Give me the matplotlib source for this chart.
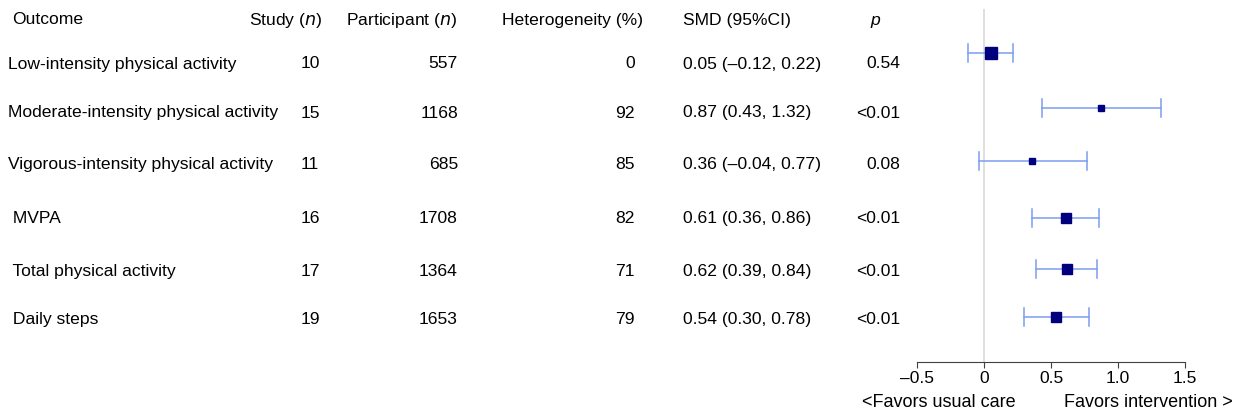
import matplotlib.pyplot as plt
import matplotlib.transforms as mtransforms

plt.rcParams['font.family'] = ['Liberation Sans', 'DejaVu Sans']

# data
outcomes = ['Low-intensity physical activity', 'Moderate-intensity physical activity',
            'Vigorous-intensity physical activity', ' MVPA', ' Total physical activity',
            ' Daily steps']
studies = [10, 15, 11, 16, 17, 19]
participants = [557, 1168, 685, 1708, 1364, 1653]
heterogeneity = [0, 92, 85, 82, 71, 79]
smd = [0.05, 0.87, 0.36, 0.61, 0.62, 0.54]
ci_low = [-0.12, 0.43, -0.04, 0.36, 0.39, 0.30]
ci_high = [0.22, 1.32, 0.77, 0.86, 0.84, 0.78]
p_values = ['0.54', '<0.01', '0.08', '<0.01', '<0.01', '<0.01']
box_px = [12.5, 6, 6, 9.5, 9.5, 9.5]
xticks = [-0.5, 0, 0.5, 1.0, 1.5]
xtick_labels = ['\u20130.5', '0', '0.5', '1.0', '1.5']

# layout (pixels from the top of the figure)
row_px = [54, 109, 162, 219, 270, 318]
text_px = [64, 113, 165, 219, 272, 320]
header_px = 20

W, H = 1235, 414
fig = plt.figure(figsize=(W / 100, H / 100), dpi=100)

# forest axes placed in pixel coords, y axis in pixels from the top
x0, x1 = 917, 1185
ytop, ybot = 10, 363
ax = fig.add_axes([x0 / W, 1 - ybot / H, (x1 - x0) / W, (ybot - ytop) / H])
ax.set_ylim(ybot, ytop)
ax.set_xlim(-0.5, 1.5)

ax.axvline(0, color='#d9d9d9', lw=1.2, zorder=0)

rows = list(range(len(outcomes)))
ci_color = '#7b9cf0'
cap = 9
for i in rows:
    y = row_px[i]
    ax.plot([ci_low[i], ci_high[i]], [y, y], color=ci_color, lw=1.1)
    ax.plot([ci_low[i]] * 2, [y - cap, y + cap], color=ci_color, lw=1.1)
    ax.plot([ci_high[i]] * 2, [y - cap, y + cap], color=ci_color, lw=1.1)
    ax.plot(smd[i], y, marker='s', color='#00007f', markersize=box_px[i] * 0.72, lw=0)

for side in ['top', 'right', 'left']:
    ax.spines[side].set_visible(False)
ax.spines['bottom'].set_color('#404040')
ax.set_yticks([])
ax.set_xticks(xticks)
ax.set_xticklabels(xtick_labels, fontsize=12.5)
ax.tick_params(axis='x', direction='out', length=4, color='#404040', pad=2)

# text table
tr = mtransforms.blended_transform_factory(fig.transFigure, ax.transData)
fs = 12.6


def fx(px):
    return px / W


ax.text(fx(12), header_px, 'Outcome', transform=tr, fontsize=fs, va='center', ha='left')
ax.text(fx(322), header_px, 'Study ($\\it{n}$)', transform=tr, fontsize=fs, va='center', ha='right')
ax.text(fx(457), header_px, 'Participant ($\\it{n}$)', transform=tr, fontsize=fs, va='center', ha='right')
ax.text(fx(502), header_px, 'Heterogeneity (%)', transform=tr, fontsize=fs, va='center', ha='left')
ax.text(fx(683), header_px, 'SMD (95%CI)', transform=tr, fontsize=fs, va='center', ha='left')
ax.text(fx(875), header_px, 'p', transform=tr, fontsize=fs, va='center', ha='center', style='italic')

for i in rows:
    y = text_px[i]
    ax.text(fx(8), y, outcomes[i], transform=tr, fontsize=fs, va='center', ha='left')
    ax.text(fx(310), y, str(studies[i]), transform=tr, fontsize=fs, va='center', ha='center')
    ax.text(fx(458), y, str(participants[i]), transform=tr, fontsize=fs, va='center', ha='right')
    ax.text(fx(635), y, str(heterogeneity[i]), transform=tr, fontsize=fs, va='center', ha='right')
    ci_txt = '%.2f (%.2f, %.2f)' % (smd[i], ci_low[i], ci_high[i])
    ci_txt = ci_txt.replace('-', '\u2013')
    ax.text(fx(683), y, ci_txt, transform=tr, fontsize=fs, va='center', ha='left')
    ax.text(fx(900), y, p_values[i], transform=tr, fontsize=fs, va='center', ha='right')

fig.text(fx(862), 1 - 403 / H, '<Favors usual care', fontsize=13, va='center', ha='left')
fig.text(fx(1233), 1 - 403 / H, 'Favors intervention >', fontsize=13, va='center', ha='right')

fig.savefig('out.png', dpi=100)
